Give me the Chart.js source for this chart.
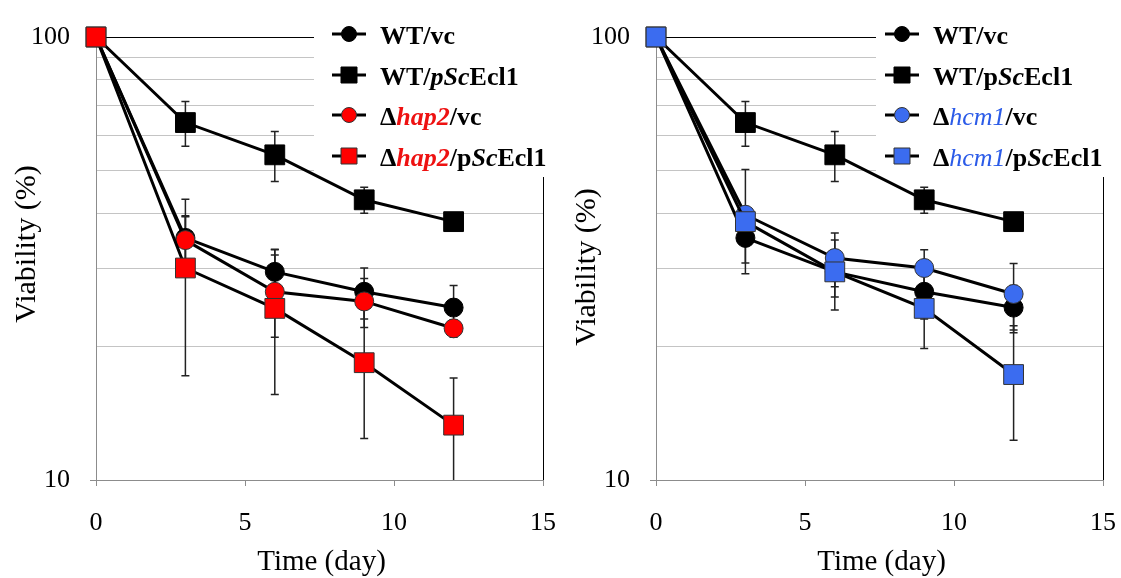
<!DOCTYPE html>
<html>
<head>
<meta charset="utf-8">
<script src="https://cdn.jsdelivr.net/npm/chart.js@4/dist/chart.umd.min.js"></script>
<style>
  body { margin: 0; background: #fff; }
  canvas { position: absolute; top: 0; }
</style>
</head>
<body>
<canvas id="grafHap2" width="560" height="578" style="left:0;width:560px;height:578px"></canvas>
<canvas id="grafHcm1" width="561" height="578" style="left:560px;width:561px;height:578px"></canvas>
<script>
// Días de muestreo y viabilidad (%) por cepa
const dias = [0, 3, 6, 9, 12];

const wtVc = [100, 35.2, 29.5, 26.6, 24.5];
const wtVcErr = [0, 4.3, 3.6, 3.5, 3.0];
const wtEcl1 = [100, 64.1, 54.2, 42.9, 38.3];
const wtEcl1Err = [0, 7.4, 7.0, 2.9, 1.0];

const hap2Vc = [100, 34.8, 26.6, 25.3, 22.0];
const hap2VcErr = [0, 4.5, 5.6, 3.2, 1.0];
const hap2Ecl1 = [100, 30.1, 24.4, 18.4, 13.3];
const hap2Ecl1Err = [0, 12.9, 8.8, 6.0, 3.7];

const hcm1Vc = [100, 39.7, 31.7, 30.1, 26.3];
const hcm1VcErr = [0, 10.5, 4.4, 3.0, 4.5];
const hcm1Ecl1 = [100, 38.3, 29.5, 24.4, 17.3];
const hcm1Ecl1Err = [0, 2.5, 5.3, 4.6, 5.0];

const ticksY = [10, 20, 30, 40, 50, 60, 70, 80, 90, 100];
const ticksX = [0, 5, 10, 15];

// Textos de la leyenda: [texto, estilo, color]
const leyendaHap2 = [
  [['WT/vc', 'bold']],
  [['WT/', 'bold'], ['pSc', 'italic bold'], ['Ecl1', 'bold']],
  [['Δ', 'bold'], ['hap2', 'italic bold', '#ee1111'], ['/vc', 'bold']],
  [['Δ', 'bold'], ['hap2', 'italic bold', '#ee1111'], ['/p', 'bold'], ['Sc', 'italic bold'], ['Ecl1', 'bold']]
];
const leyendaHcm1 = [
  [['WT/vc', 'bold']],
  [['WT/p', 'bold'], ['Sc', 'italic bold'], ['Ecl1', 'bold']],
  [['Δ', 'bold'], ['hcm1', 'italic', '#2b5be8'], ['/vc', 'bold']],
  [['Δ', 'bold'], ['hcm1', 'italic', '#2b5be8'], ['/p', 'bold'], ['Sc', 'italic bold'], ['Ecl1', 'bold']]
];

const serif = "'Liberation Serif', 'Times New Roman', serif";
const ROJO = '#ff0000';
const AZUL = '#3b6cf0';

function serie(valores, errores, forma, color, orden) {
  return {
    data: dias.map((d, i) => ({ x: d, y: valores[i] })),
    errores: errores,
    borderColor: '#000',
    borderWidth: 3,
    pointStyle: forma,
    pointRadius: forma === 'rect' ? 14 : 9.5,
    pointBackgroundColor: color,
    pointBorderColor: color === '#000' ? '#000' : '#333',
    pointBorderWidth: 1,
    tension: 0,
    clip: false,
    order: orden
  };
}

// Barras de error (simétricas, recortadas al mínimo del eje)
const barrasError = {
  id: 'barrasError',
  beforeDatasetsDraw(chart) {
    const ctx = chart.ctx;
    const sx = chart.scales.x, sy = chart.scales.y;
    ctx.save();
    ctx.strokeStyle = '#222';
    ctx.lineWidth = 1.5;
    chart.data.datasets.forEach(ds => {
      ds.data.forEach((p, i) => {
        const e = ds.errores[i];
        if (!e) return;
        const px = sx.getPixelForValue(p.x);
        const yAlto = sy.getPixelForValue(p.y + e);
        const bajo = p.y - e;
        const yBajo = sy.getPixelForValue(Math.max(bajo, sy.min));
        ctx.beginPath();
        ctx.moveTo(px, yAlto);
        ctx.lineTo(px, yBajo);
        ctx.moveTo(px - 4, yAlto);
        ctx.lineTo(px + 4, yAlto);
        if (bajo > sy.min) {
          ctx.moveTo(px - 4, yBajo);
          ctx.lineTo(px + 4, yBajo);
        }
        ctx.stroke();
      });
    });
    ctx.restore();
  }
};

// Leyenda y títulos de ejes dibujados a mano
function extras(leyenda, series, pos) {
  return {
    id: 'extras',
    // fondo blanco de la leyenda: tapa la rejilla pero no las líneas
    beforeDatasetsDraw(chart) {
      const ctx = chart.ctx;
      ctx.save();
      ctx.fillStyle = '#fff';
      ctx.fillRect(pos.caja, 0, chart.width - pos.caja, 177);
      ctx.restore();
    },
    afterDraw(chart) {
      const ctx = chart.ctx;
      const area = chart.chartArea;
      ctx.save();

      const filas = [34, 75, 115, 156];
      leyenda.forEach((partes, i) => {
        const y = filas[i];
        const ds = series[i];
        ctx.strokeStyle = '#000';
        ctx.lineWidth = 3;
        ctx.beginPath();
        ctx.moveTo(pos.linea0, y);
        ctx.lineTo(pos.linea1, y);
        ctx.stroke();
        ctx.fillStyle = ds.pointBackgroundColor;
        ctx.strokeStyle = ds.pointBorderColor;
        ctx.lineWidth = 1;
        ctx.beginPath();
        if (ds.pointStyle === 'rect') {
          ctx.rect(pos.marca - 8, y - 8, 16, 16);
        } else {
          ctx.arc(pos.marca, y, 7.5, 0, Math.PI * 2);
        }
        ctx.fill();
        ctx.stroke();

        let x = pos.texto;
        ctx.textAlign = 'left';
        ctx.textBaseline = 'alphabetic';
        partes.forEach(([txt, estilo, color]) => {
          ctx.font = `${estilo} 26px ${serif}`;
          ctx.fillStyle = color || '#000';
          ctx.fillText(txt, x, y + 10);
          x += ctx.measureText(txt).width;
        });
      });

      ctx.fillStyle = '#000';
      ctx.textAlign = 'center';
      ctx.textBaseline = 'alphabetic';
      ctx.font = `29px ${serif}`;
      ctx.fillText('Time (day)', (area.left + area.right) / 2 + 2, 570);
      ctx.font = `30px ${serif}`;
      ctx.translate(35, pos.tituloY);
      ctx.rotate(-Math.PI / 2);
      ctx.fillText('Viability (%)', 0, 0);
      ctx.restore();
    }
  };
}

function crearGrafico(id, series, leyenda, pos, derecha) {
  const ctx = document.getElementById(id).getContext('2d');
  return new Chart(ctx, {
    type: 'line',
    data: { datasets: series },
    plugins: [extras(leyenda, series, pos), barrasError],
    options: {
      responsive: false,
      animation: false,
      devicePixelRatio: 1,
      layout: { padding: { top: 37, right: derecha, left: 0, bottom: 0 } },
      plugins: {
        legend: { display: false },
        tooltip: { enabled: false }
      },
      scales: {
        x: {
          type: 'linear',
          min: 0,
          max: 15,
          afterBuildTicks: s => { s.ticks = ticksX.map(v => ({ value: v })); },
          afterFit: s => {
            s.height = 98;
            s.paddingLeft = 0;
            s.paddingRight = 0;
          },
          ticks: { padding: 22, color: '#000', maxRotation: 0, font: { family: serif, size: 26 } },
          grid: {
            color: c => c.tick && c.tick.value === 15 ? '#000' : 'transparent',
            tickColor: '#8c8c8c',
            tickLength: 6
          },
          border: { color: '#8c8c8c' }
        },
        y: {
          type: 'logarithmic',
          min: 10,
          max: 100,
          afterBuildTicks: s => { s.ticks = ticksY.map(v => ({ value: v })); },
          afterFit: s => {
            s.width = 96;
            s.paddingTop = 0;
            s.paddingBottom = 0;
          },
          ticks: {
            autoSkip: false,
            padding: 20,
            color: '#000',
            font: { family: serif, size: 26 },
            callback: v => (v === 10 || v === 100) ? String(v) : ''
          },
          grid: {
            color: c => {
              if (!c.tick) return 'transparent';
              if (c.tick.value === 100) return '#000';
              if (c.tick.value === 10) return 'transparent';
              return '#c4c4c4';
            },
            tickColor: c => c.tick && (c.tick.value === 10 || c.tick.value === 100) ? '#8c8c8c' : 'transparent',
            tickLength: 6
          },
          border: { color: '#8c8c8c' }
        }
      }
    }
  });
}

const seriesHap2 = [
  serie(wtVc, wtVcErr, 'circle', '#000', 3),
  serie(wtEcl1, wtEcl1Err, 'rect', '#000', 2),
  serie(hap2Vc, hap2VcErr, 'circle', ROJO, 1),
  serie(hap2Ecl1, hap2Ecl1Err, 'rect', ROJO, 0)
];
const seriesHcm1 = [
  serie(wtVc, wtVcErr, 'circle', '#000', 3),
  serie(wtEcl1, wtEcl1Err, 'rect', '#000', 2),
  serie(hcm1Vc, hcm1VcErr, 'circle', AZUL, 1),
  serie(hcm1Ecl1, hcm1Ecl1Err, 'rect', AZUL, 0)
];

crearGrafico('grafHap2', seriesHap2, leyendaHap2,
  { caja: 314, linea0: 332, linea1: 366, marca: 349, texto: 380, tituloY: 244 }, 17);
crearGrafico('grafHcm1', seriesHcm1, leyendaHcm1,
  { caja: 316, linea0: 325, linea1: 359, marca: 342, texto: 373, tituloY: 267 }, 18);
</script>
</body>
</html>
